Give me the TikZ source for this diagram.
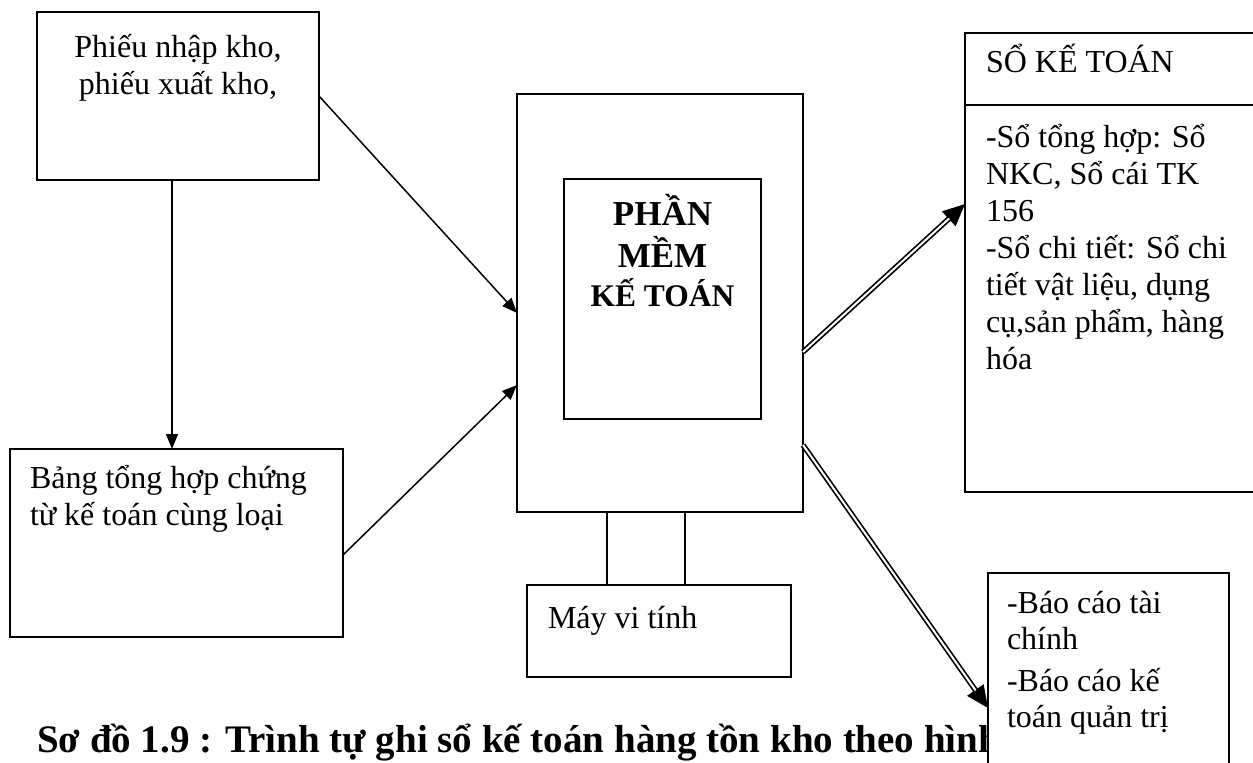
\documentclass[tikz,border=0pt]{standalone}
\usepackage{fontspec}
\setmainfont{Liberation Serif}
\usetikzlibrary{arrows.meta,calc}
\begin{document}
\begin{tikzpicture}[x=1pt,y=-1pt,
  box/.style={draw, line width=1.7pt, rectangle, inner sep=0pt, outer sep=0pt, anchor=north west},
  txt/.style={inner sep=0pt, outer sep=0pt, font=\fontsize{32}{36.8}\selectfont},
  bigbold/.style={inner sep=0pt, outer sep=0pt, font=\fontsize{35}{40}\selectfont\bfseries},
  midbold/.style={inner sep=0pt, outer sep=0pt, font=\fontsize{31.5}{36}\selectfont\bfseries},
  arr/.style={line width=1.5pt, -{Triangle[length=15pt,width=12pt]}},
  plain/.style={line width=1.7pt},
  headonly/.style={line width=0.8pt, -{Triangle[length=22pt,width=20pt]}},
  dblshaft/.style={line width=1.7pt, double=white, double distance=2pt}]
\useasboundingbox (0,0) rectangle (1253,763);
\clip (0,0) rectangle (1253,763);

% boxes
\node[box, minimum width=282pt, minimum height=168pt] (src) at (37,12) {};
\node[box, minimum width=333pt, minimum height=188pt] (sum) at (10,449) {};
\node[box, minimum width=286pt, minimum height=418pt] (pc) at (517,94) {};
\node[box, minimum width=197pt, minimum height=240pt] (sw) at (564,179) {};
\node[box, minimum width=264pt, minimum height=92pt] (mvt) at (527,585) {};
\node[box, minimum width=320pt, minimum height=459pt] (ledger) at (965,33) {};
\draw[plain] ($(ledger.north west)+(0,71.7)$) -- ($(ledger.north east)+(0,71.7)$);

% monitor stand
\draw[plain] ([xshift=-53pt]pc.south) -- ([xshift=-53pt]pc.south |- mvt.north);
\draw[plain] ([xshift=25pt]pc.south) -- ([xshift=25pt]pc.south |- mvt.north);

% texts
\node[txt, anchor=base] (s1) at (178,57) {Phiếu nhập kho,};
\node[txt, anchor=base] (s2) at (178,94) {phiếu xuất kho,};
\node[txt, anchor=base west] (b1) at (30,488) {Bảng tổng hợp chứng};
\node[txt, anchor=base west] (b2) at (30,525) {từ kế toán cùng loại};
\node[bigbold, anchor=base] (p1) at (662.5,225) {PHẦN};
\node[bigbold, anchor=base] (p2) at (662.5,267) {MỀM};
\node[midbold, anchor=base] (p3) at (662.5,306) {KẾ TOÁN};
\node[txt, anchor=base west] (m1) at (548,628) {Máy vi tính};
\node[txt, anchor=base west] (h1) at (986,72.5) {SỔ KẾ TOÁN};
\foreach \t [count=\i from 0] in {-Sổ tổng hợp: Sổ, {NKC, Sổ cái TK}, 156, -Sổ chi tiết: Sổ chi, {tiết vật liệu, dụng}, {cụ,sản phẩm, hàng}, hóa}
  \node[txt, anchor=base west] (l\i) at (986,147+37*\i) {\t};

% caption (its tail lies under the report box)
\node[inner sep=0pt, outer sep=0pt, font=\fontsize{39}{45}\selectfont\bfseries, anchor=base west] (cap) at (37,752)
  {Sơ đồ 1.9 : Trình tự ghi sổ kế toán hàng tồn kho theo hình};

\node[box, fill=white, minimum width=241pt, minimum height=220pt] (rep) at (988,573) {};
\node[txt, anchor=base west] (r1) at (1007,613) {-Báo cáo tài};
\node[txt, anchor=base west] (r2) at (1007,649) {chính};
\node[txt, anchor=base west] (r3) at (1007,691) {-Báo cáo kế};
\node[txt, anchor=base west] (r4) at (1007,727) {toán quản trị};

% input arrows
\draw[arr] (src.east) -- ([yshift=-10pt]pc.west);
\draw[arr] ([yshift=-12pt]sum.east) -- ([yshift=-82pt]pc.west);
\draw[arr] ([xshift=-6pt]src.south) -- ([xshift=-6pt]src.south |- sum.north);

% output arrows (double shafts)
\coordinate (d1s) at ([yshift=-49pt]pc.east);
\coordinate (d1t) at ([yshift=58.5pt]ledger.west);
\draw[headonly] ($(d1t)!34pt!(d1s)$) -- (d1t);
\draw[dblshaft] (d1s) -- ($(d1t)!21.5pt!(d1s)$);

\coordinate (d2s) at ([yshift=-142pt]pc.east);
\coordinate (d2t) at ([yshift=-25pt]rep.west);
\draw[headonly] ($(d2t)!34pt!(d2s)$) -- (d2t);
\draw[dblshaft] (d2s) -- ($(d2t)!21.5pt!(d2s)$);
\end{tikzpicture}
\end{document}
